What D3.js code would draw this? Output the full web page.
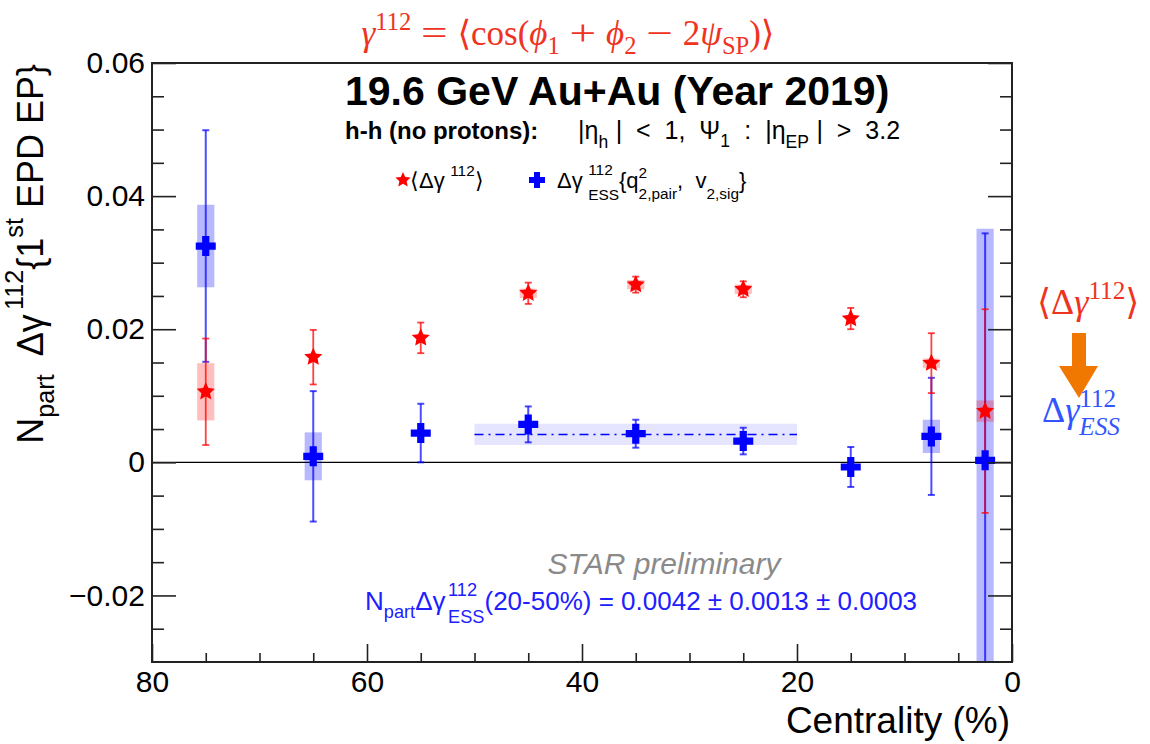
<!DOCTYPE html>
<html>
<head>
<meta charset="utf-8">
<script src="https://cdn.jsdelivr.net/npm/d3@7"></script>
<style>
  html, body { margin: 0; padding: 0; background: #fff; }
  svg { display: block; }
  svg text { white-space: pre; }
</style>
</head>
<body>
<script>
// Centrality bins (%) and the two measured observables
const centrality = [75, 65, 55, 45, 35, 25, 15, 7.5, 2.5];

// <Δγ112> (red stars)
const gammaMean = [0.0106, 0.0158, 0.0187, 0.0254, 0.0267, 0.0260, 0.0216, 0.0149, 0.0077];
const gammaStat = [0.0080, 0.0041, 0.0023, 0.0016, 0.0012, 0.0012, 0.0016, 0.0045, 0.0153];
const gammaSys  = [0.0043, 0.0000, 0.0000, 0.0007, 0.0007, 0.0007, 0.0000, 0.0007, 0.0016];

// Δγ112_ESS (blue crosses)
const essMean = [0.0325, 0.0009, 0.0044, 0.0057, 0.0043, 0.0032, -0.0007, 0.0039, 0.0003];
const essStat = [0.0174, 0.0098, 0.0044, 0.0027, 0.0021, 0.0020, 0.0030, 0.0088, 0.0341];
const essSys  = [0.0062, 0.0036, 0.0000, 0.0000, 0.0000, 0.0000, 0.0000, 0.0025, 0.0348];

// 20-50% average of Δγ112_ESS
const avgRange = [50, 20];
const avgValue = 0.0042;
const avgStat = 0.0013;
const avgSys = 0.0003;

// Axis ticks
const xMajorTicks = [80, 60, 40, 20, 0];
const xTickLabels = ["80", "60", "40", "20", "0"];
const xMinorTicks = [75, 70, 65, 55, 50, 45, 35, 30, 25, 15, 10, 5];
const yMajorTicks = [0.06, 0.04, 0.02, 0, -0.02];
const yTickLabels = ["0.06", "0.04", "0.02", "0", "\u22120.02"];
const yMinorTicks = [0.055, 0.05, 0.045, 0.035, 0.03, 0.025, 0.015, 0.01, 0.005, -0.005, -0.01, -0.015, -0.025];

const W = 1150, H = 744;
const L = 152, R = 1012, T = 63, B = 662;
const SANS = "'Liberation Sans', Arial, Helvetica, sans-serif";
const SERIF = "'Liberation Serif', 'DejaVu Serif', 'Times New Roman', serif";
const RED = "#ff0000", BLUE = "#0000ff";

const svg = d3.select("body").append("svg").attr("width", W).attr("height", H);

const x = d3.scaleLinear().domain([80, 0]).range([L, R]);
const y = d3.scaleLinear().domain([-0.03, 0.06]).range([B, T]);

// ---- rich text: sequential runs with stacked super/subscripts ----
function rich(parent, parts, o) {
  const g = parent.append("g")
    .attr("font-family", o.family || SANS)
    .attr("fill", o.fill || "#000")
    .attr("font-weight", o.weight || "normal");
  const fs = o.size;
  const sc = o.small || 0.7;
  const up = o.up || 0.45, down = o.down || 0.28;
  let cx = 0;
  parts.forEach(p => {
    if (typeof p === "string") p = { t: p };
    if (p.gap !== undefined) { cx += p.gap * fs; return; }
    if (p.t !== undefined) {
      const el = g.append("text").attr("x", cx).attr("y", 0)
        .attr("font-size", fs * (p.scale || 1))
        .attr("font-style", p.it ? "italic" : "normal")
        .text(p.t);
      if (p.family) el.attr("font-family", p.family);
      let w = el.node().getComputedTextLength();
      if (p.stretch) {
        // widen operator glyphs horizontally
        el.attr("transform", `translate(${cx},0) scale(${p.stretch},1) translate(${-cx},0)`);
        w *= p.stretch;
      }
      cx += w;
      return;
    }
    let w = 0;
    if (p.sup !== undefined) {
      const el = g.append("text").attr("x", cx).attr("y", -fs * (p.up || up))
        .attr("font-size", fs * sc).attr("font-style", p.supIt ? "italic" : "normal")
        .text(p.sup);
      w = Math.max(w, el.node().getComputedTextLength());
    }
    if (p.sub !== undefined) {
      const el = g.append("text").attr("x", cx).attr("y", fs * (p.down || down))
        .attr("font-size", fs * sc).attr("font-style", p.subIt ? "italic" : "normal")
        .text(p.sub);
      w = Math.max(w, el.node().getComputedTextLength());
    }
    cx += w;
  });
  let shift = 0;
  if (o.anchor === "middle") shift = -cx / 2;
  if (o.anchor === "end") shift = -cx;
  g.attr("transform", `translate(${o.x},${o.y}) rotate(${o.rotate || 0}) translate(${shift},0)`);
  return g;
}

// ---- marker shapes ----
function starPath(r) {
  const pts = [];
  for (let i = 0; i < 10; i++) {
    const rr = i % 2 === 0 ? r : r * 0.48;
    const a = -Math.PI / 2 + i * Math.PI / 5;
    pts.push([rr * Math.cos(a), rr * Math.sin(a)]);
  }
  return "M" + pts.map(p => p.join(",")).join("L") + "Z";
}
function crossPath(h, a) {
  const pts = [[-a,-h],[a,-h],[a,-a],[h,-a],[h,a],[a,a],[a,h],[-a,h],[-a,a],[-h,a],[-h,-a],[-a,-a]];
  return "M" + pts.map(p => p.join(",")).join("L") + "Z";
}

// ---- plot contents (clipped to the frame) ----
svg.append("clipPath").attr("id", "plotclip")
  .append("rect").attr("x", L).attr("y", T).attr("width", R - L).attr("height", B - T);
const plot = svg.append("g").attr("clip-path", "url(#plotclip)");

// 20-50% average band and its dash-dotted central value
const bandHalf = avgStat + avgSys;
plot.append("rect")
  .attr("x", x(avgRange[0])).attr("width", x(avgRange[1]) - x(avgRange[0]))
  .attr("y", y(avgValue + bandHalf)).attr("height", y(avgValue - bandHalf) - y(avgValue + bandHalf))
  .attr("fill", BLUE).attr("fill-opacity", 0.1);
plot.append("line")
  .attr("x1", x(avgRange[0])).attr("x2", x(avgRange[1]))
  .attr("y1", y(avgValue)).attr("y2", y(avgValue))
  .attr("stroke", BLUE).attr("stroke-width", 1.5).attr("stroke-dasharray", "9,5,2,5");

// zero line
plot.append("line").attr("x1", L).attr("x2", R).attr("y1", y(0)).attr("y2", y(0))
  .attr("stroke", "#000").attr("stroke-width", 1.3);

const ess = centrality.map((c, i) => ({ c, v: essMean[i], st: essStat[i], sy: essSys[i] }));
const gam = centrality.map((c, i) => ({ c, v: gammaMean[i], st: gammaStat[i], sy: gammaSys[i] }));
const boxHalf = 0.8;

function sysBoxes(data, color, op) {
  plot.append("g").selectAll("rect").data(data.filter(d => d.sy > 0)).join("rect")
    .attr("x", d => x(d.c + boxHalf)).attr("width", d => x(d.c - boxHalf) - x(d.c + boxHalf))
    .attr("y", d => y(d.v + d.sy)).attr("height", d => y(d.v - d.sy) - y(d.v + d.sy))
    .attr("fill", color).attr("fill-opacity", op);
}
function statBars(data, color, width, op) {
  const g = plot.append("g").attr("stroke", color).attr("stroke-width", width).attr("stroke-opacity", op);
  g.selectAll("line.bar").data(data).join("line").attr("class", "bar")
    .attr("x1", d => x(d.c)).attr("x2", d => x(d.c))
    .attr("y1", d => y(d.v + d.st)).attr("y2", d => y(d.v - d.st));
  ["top", "bot"].forEach(k => {
    g.selectAll("line." + k).data(data).join("line").attr("class", k)
      .attr("x1", d => x(d.c) - 3.5).attr("x2", d => x(d.c) + 3.5)
      .attr("y1", d => y(k === "top" ? d.v + d.st : d.v - d.st))
      .attr("y2", d => y(k === "top" ? d.v + d.st : d.v - d.st));
  });
}

sysBoxes(ess, BLUE, 0.28);
sysBoxes(gam, RED, 0.25);
statBars(ess, BLUE, 2, 0.7);
statBars(gam, RED, 1.8, 0.75);

plot.append("g").selectAll("path").data(ess).join("path")
  .attr("transform", d => `translate(${x(d.c)},${y(d.v)})`)
  .attr("d", crossPath(10, 3.6)).attr("fill", BLUE);
plot.append("g").selectAll("path").data(gam).join("path")
  .attr("transform", d => `translate(${x(d.c)},${y(d.v)})`)
  .attr("d", starPath(9.5)).attr("fill", RED);

// ---- axes ----
const xAxisMajor = d3.axisBottom(x).tickValues(xMajorTicks)
  .tickFormat((d, i) => xTickLabels[i]).tickSize(-18).tickPadding(9);
const xAxisMinor = d3.axisBottom(x).tickValues(xMinorTicks).tickFormat("").tickSize(-9);
const yAxisMajor = d3.axisLeft(y).tickValues(yMajorTicks)
  .tickFormat((d, i) => yTickLabels[i]).tickSize(-24).tickPadding(7);
const yAxisMinor = d3.axisLeft(y).tickValues(yMinorTicks).tickFormat("").tickSize(-12);
const yAxisRightMajor = d3.axisRight(y).tickValues(yMajorTicks).tickFormat("").tickSize(-24);
const yAxisRightMinor = d3.axisRight(y).tickValues(yMinorTicks).tickFormat("").tickSize(-12);

function styleAxis(g) {
  g.select(".domain").remove();
  g.selectAll(".tick line").attr("stroke", "#222").attr("stroke-width", 1.6);
  g.selectAll(".tick text").attr("font-family", SANS).attr("font-size", 30).attr("fill", "#000");
}
svg.append("g").attr("transform", `translate(0,${B})`).call(xAxisMajor).call(styleAxis);
svg.append("g").attr("transform", `translate(0,${B})`).call(xAxisMinor).call(styleAxis);
svg.append("g").attr("transform", `translate(${L},0)`).call(yAxisMajor).call(styleAxis);
svg.append("g").attr("transform", `translate(${L},0)`).call(yAxisMinor).call(styleAxis);
svg.append("g").attr("transform", `translate(${R},0)`).call(yAxisRightMajor).call(styleAxis);
svg.append("g").attr("transform", `translate(${R},0)`).call(yAxisRightMinor).call(styleAxis);

// frame
svg.append("rect").attr("x", L).attr("y", T).attr("width", R - L).attr("height", B - T)
  .attr("fill", "none").attr("stroke", "#222").attr("stroke-width", 2);

// ---- axis titles ----
rich(svg, [{ t: "N" }, { sub: "part", down: 0.3 }, { t: "  \u0394\u03b3" }, { gap: 0.12 }, { sup: "112", up: 0.55 },
  { t: "{1" }, { sup: "st", up: 0.55 }, { t: " EPD EP}" }],
  { x: 43, y: 64, size: 36, rotate: -90, anchor: "end" });

svg.append("text").attr("x", 1010).attr("y", 733).attr("text-anchor", "end")
  .attr("font-family", SANS).attr("font-size", 37).text("Centrality (%)");

// ---- headline texts ----
const opGap = 0.28, opStretch = 1.35;
rich(svg, [{ t: "\u03b3", it: true }, { sup: "112", up: 0.42 }, { gap: opGap }, { t: "=", stretch: opStretch }, { gap: opGap },
  { t: "\u27e8cos(" },
  { t: "\u03d5", it: true }, { sub: "1", down: 0.25 }, { gap: opGap }, { t: "+", stretch: opStretch }, { gap: opGap },
  { t: "\u03d5", it: true }, { sub: "2", down: 0.25 }, { gap: opGap }, { t: "\u2212", stretch: opStretch }, { gap: opGap }, { t: "2" },
  { t: "\u03c8", it: true }, { sub: "SP", down: 0.25 }, { t: ")\u27e9" }],
  { x: 568, y: 45, size: 35, family: SERIF, fill: "#ee3322", anchor: "middle" });

svg.append("text").attr("x", 345).attr("y", 105)
  .attr("font-family", SANS).attr("font-size", 41).attr("font-weight", "bold")
  .text("19.6 GeV Au+Au (Year 2019)");
svg.append("text").attr("x", 345).attr("y", 139)
  .attr("font-family", SANS).attr("font-size", 24).attr("font-weight", "bold")
  .text("h-h (no protons):");
rich(svg, [{ t: "|\u03b7" }, { sub: "h", down: 0.35 }, { gap: 0.3 }, { t: "|  <  1,  \u03a8" }, { sub: "1", down: 0.3 },
  { gap: 0.3 }, { t: " :  |\u03b7" }, { sub: "EP", down: 0.35 }, { gap: 0.3 }, { t: "|  >  3.2" }],
  { x: 578, y: 139, size: 25 });

// legend
svg.append("path").attr("transform", "translate(403,180)").attr("d", starPath(8)).attr("fill", RED);
rich(svg, [{ t: "\u27e8\u0394\u03b3" }, { gap: 0.25 }, { sup: "112", up: 0.55 }, { t: "\u27e9" }],
  { x: 410, y: 188, size: 22 });
svg.append("path").attr("transform", "translate(537,180)").attr("d", crossPath(8, 3)).attr("fill", BLUE);
rich(svg, [{ t: "\u0394\u03b3" }, { gap: 0.25 }, { sup: "112", sub: "ESS", up: 0.6, down: 0.55 },
  { t: "{q" }, { sup: "2", sub: "2,pair", up: 0.45, down: 0.5 }, { t: ",  v" },
  { sub: "2,sig", down: 0.5 }, { t: "}" }],
  { x: 557, y: 188, size: 22 });

// STAR label and the 20-50% average
svg.append("text").attr("x", 664).attr("y", 574).attr("text-anchor", "middle")
  .attr("font-family", SANS).attr("font-size", 30).attr("font-style", "italic")
  .attr("fill", "#8a8a8a").text("STAR preliminary");
rich(svg, [{ t: "N" }, { sub: "part", down: 0.3 }, { t: "\u0394\u03b3" }, { gap: 0.1 },
  { sup: "112", sub: "ESS", up: 0.55, down: 0.5 },
  { t: `(${avgRange[1]}-${avgRange[0]}%) = ${avgValue.toFixed(4)} \u00b1 ${avgStat.toFixed(4)} \u00b1 ${avgSys.toFixed(4)}` }],
  { x: 365, y: 610, size: 26, fill: "#2020ff" });

// ---- right-hand annotation ----
rich(svg, [{ t: "\u27e8\u0394" }, { t: "\u03b3", it: true }, { sup: "112", up: 0.42 }, { t: "\u27e9" }],
  { x: 1037, y: 314, size: 36, family: SERIF, fill: "#ee3322" });
svg.append("path")
  .attr("d", "M1072,333 L1086,333 L1086,366 L1098,366 L1079,398 L1059,366 L1072,366 Z")
  .attr("fill", "#f07800");
rich(svg, [{ t: "\u0394" }, { t: "\u03b3", it: true }, { sup: "112", sub: "ESS", up: 0.42, down: 0.35, supIt: false, subIt: true }],
  { x: 1042, y: 422, size: 36, family: SERIF, fill: "#3355ff" });
</script>
</body>
</html>
